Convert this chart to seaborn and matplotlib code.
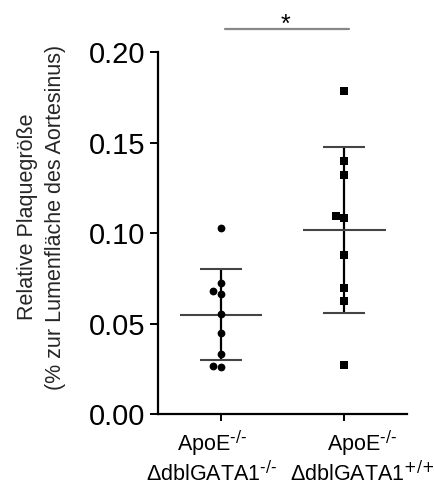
import numpy as np
import pandas as pd
import matplotlib
matplotlib.use("Agg")
import matplotlib.pyplot as plt
import matplotlib.transforms as mtransforms
import seaborn as sns

# Werte
groups = ["ApoE$^{\\text{-/-}}$\nΔdblGATA1$^{\\text{-/-}}$", "ApoE$^{\\text{-/-}}$\nΔdblGATA1$^{\\text{+/+}}$"]
ko_values = [0.1031, 0.0722, 0.0663, 0.0681, 0.0552, 0.0446, 0.0330, 0.0258, 0.0267]
wt_values = [0.1786, 0.1400, 0.1319, 0.1085, 0.1092, 0.0877, 0.0694, 0.0624, 0.0269]
markers = ["o", "s"]
yticks = [0.00, 0.05, 0.10, 0.15, 0.20]

df = pd.DataFrame({
    "group": [groups[0]] * len(ko_values) + [groups[1]] * len(wt_values),
    "value": ko_values + wt_values,
})

sns.set_style("ticks")
plt.rcParams["font.family"] = ["Liberation Sans", "DejaVu Sans"]
plt.rcParams["mathtext.default"] = "regular"
plt.rcParams["text.color"] = "black"
plt.rcParams["xtick.color"] = "black"
plt.rcParams["ytick.color"] = "black"
plt.rcParams["axes.edgecolor"] = "black"

fig = plt.figure(figsize=(4.34, 4.88), dpi=100)
ax = fig.add_axes([0.364, 0.1516, 0.574, 0.7414])

# Einzelpunkte
for g, m in zip(groups, markers):
    sns.swarmplot(data=df[df["group"] == g], x="group", y="value", order=groups,
                  marker=m, color="black", size=5.6 if m == "o" else 5.8, ax=ax, zorder=3)

# Mittelwert +/- SD
stats = df.groupby("group", sort=False)["value"].agg(["mean", "std"])
for i, g in enumerate(groups):
    m, s = stats.loc[g, "mean"], stats.loc[g, "std"]
    ax.vlines(i, m - s, m + s, color="black", lw=1.6, zorder=2)
    ax.hlines([m - s, m + s], i - 0.17, i + 0.17, color="#444444", lw=1.5, zorder=2)
    ax.hlines(m, i - 0.335, i + 0.335, color="#444444", lw=1.5, zorder=2)

ax.set_xlim(-0.51, 1.51)
ax.set_ylim(0, 0.2)
ax.set_yticks(yticks)
ax.set_yticklabels([f"{t:.2f}" for t in yticks], fontsize=21)
ax.tick_params(axis="y", length=6, width=1.4, pad=3)
ax.tick_params(axis="x", length=5, width=1.4, labelsize=15.5, pad=6)
for lab, dx in zip(ax.get_xticklabels(), [-9, 18]):
    lab.set_linespacing(1.05)
    lab.set_transform(lab.get_transform() + mtransforms.ScaledTranslation(dx / 100, 0, fig.dpi_scale_trans))
for sp in ["left", "bottom"]:
    ax.spines[sp].set_linewidth(1.6)
sns.despine(ax=ax)
ax.set_xlabel("")
ax.set_ylabel("Relative Plaquegröße\n(% zur Lumenfläche des Aortesinus)", fontsize=15.5,
              linespacing=1.45)
ax.yaxis.set_label_coords(-0.37, 0.544)

# Signifikanz
ax.plot([0.03, 1.04], [0.2127, 0.2127], color="#888888", lw=1.6, clip_on=False)
ax.text(0.52, 0.2113, "*", ha="center", va="baseline", fontsize=18, clip_on=False)

fig.savefig("out.png", dpi=100)
